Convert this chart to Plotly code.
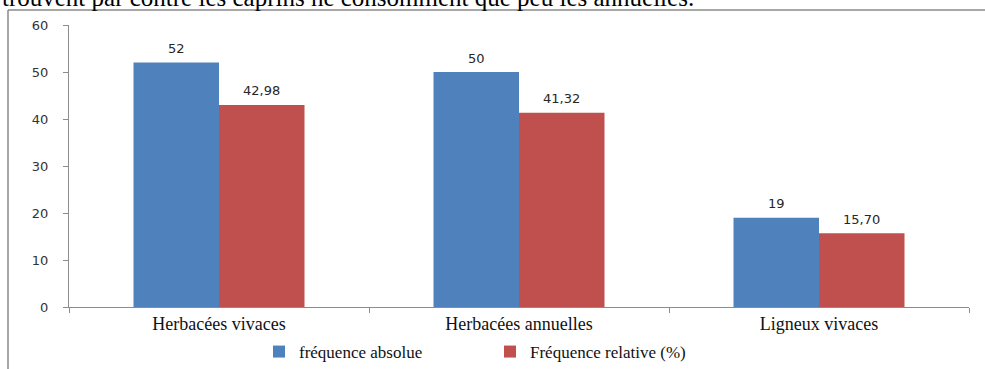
import plotly.graph_objects as go

# Data
categories = ["Herbacées vivaces", "Herbacées annuelles", "Ligneux vivaces"]
freq_absolue = [52, 50, 19]
freq_relative = [42.98, 41.32, 15.70]
series_names = ["fréquence absolue", "Fréquence relative (%)"]
y_ticks = [0, 10, 20, 30, 40, 50, 60]

BLUE = "#4F81BD"
RED = "#C0504D"
AXIS = "#8C8C8C"
SANS = "DejaVu Sans"
SERIF = "Liberation Serif"

# Plot area in pixels: x 69..969, y 25..307
W, H = 985, 369
L, R, T, B = 69, 16, 25, 62
PW, PH = W - L - R, H - T - B


def px_x(p):
    return (p - L) / PW


def px_y(p):
    return (H - B - p) / PH


def fmt_fr(v, dec):
    return f"{v:.{dec}f}".replace(".", ",")


fig = go.Figure()
series = [
    (freq_absolue, series_names[0], BLUE, 0),
    (freq_relative, series_names[1], RED, 2),
]
for values, name, color, dec in series:
    fig.add_trace(go.Bar(
        x=categories, y=values, name=name,
        marker=dict(color=color, line=dict(width=0)),
        offsetgroup=name,
    ))

# Value labels above each bar (grouped offsets: -0.5 / +0.5 bar widths)
bar_w = (1 - 0.43) / 2
for k, (values, name, color, dec) in enumerate(series):
    shift = (k - 0.5) * bar_w
    for i, v in enumerate(values):
        fig.add_annotation(
            x=i + shift, y=v, xref="x", yref="y",
            text=fmt_fr(v, dec), showarrow=False,
            xanchor="center", yanchor="middle", yshift=14,
            font=dict(family=SANS, size=13, color="#262626"),
        )

fig.update_layout(
    width=W, height=H,
    margin=dict(l=L, r=R, t=T, b=B, autoexpand=False),
    paper_bgcolor="white", plot_bgcolor="white",
    barmode="group", bargap=0.43, bargroupgap=0,
    showlegend=True,
    legend=dict(
        orientation="h", x=px_x(490), y=px_y(352),
        xanchor="center", yanchor="middle",
        font=dict(family=SERIF, size=17, color="#111111"),
        itemwidth=30, tracegroupgap=0,
        entrywidth=186, entrywidthmode="pixels",
        bgcolor="rgba(0,0,0,0)",
    ),
    xaxis=dict(
        type="category", tickson="boundaries",
        ticks="outside", ticklen=5, tickcolor=AXIS,
        showline=True, linecolor=AXIS, linewidth=1,
        showgrid=False, zeroline=False,
        tickfont=dict(family=SERIF, size=18, color="#111111"),
        range=[-0.5, 2.5],
    ),
    yaxis=dict(
        range=[0, 60], tickvals=y_ticks,
        ticks="outside", ticklen=5, tickcolor=AXIS,
        showline=True, linecolor=AXIS, linewidth=1,
        showgrid=False, zeroline=False,
        tickfont=dict(family=SANS, size=13, color="#333333"),
        ticklabelstandoff=12,
    ),
)

# Frame around the chart (left and top edges)
fig.add_shape(type="line", xref="paper", yref="paper",
              x0=px_x(8), x1=px_x(990), y0=px_y(10), y1=px_y(10),
              line=dict(color="#8A8A8A", width=1.5))
fig.add_shape(type="line", xref="paper", yref="paper",
              x0=px_x(8), x1=px_x(8), y0=px_y(10), y1=px_y(375),
              line=dict(color="#8A8A8A", width=1.5))

# Running text of the page above the chart
fig.add_annotation(
    text="trouvent par contre les caprins ne consomment que peu les annuelles.",
    xref="paper", yref="paper", x=px_x(0), y=px_y(-3),
    xanchor="left", yanchor="middle", showarrow=False,
    font=dict(family=SERIF, size=25, color="#000000"),
)

fig.write_html("out.html")
